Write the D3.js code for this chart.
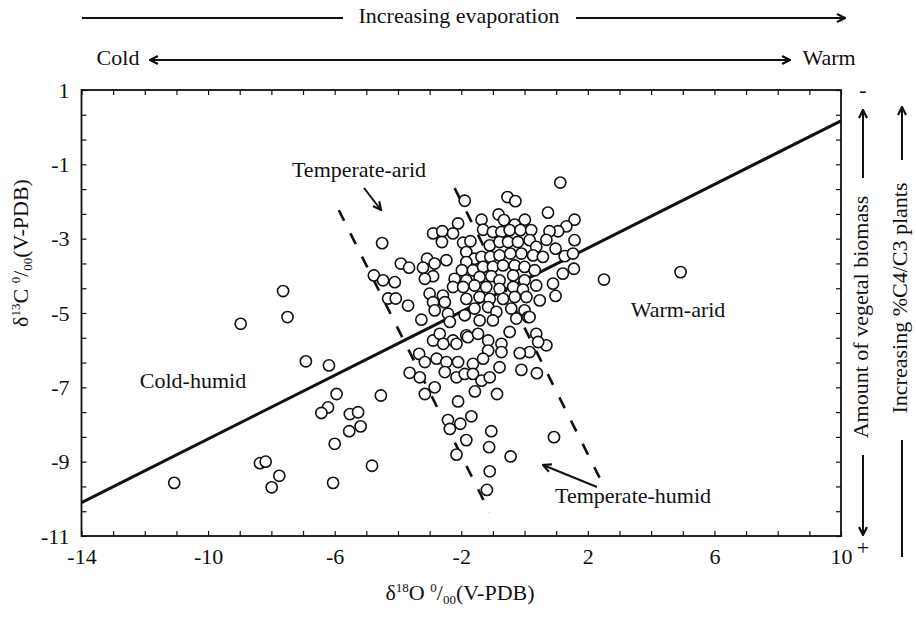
<!DOCTYPE html>
<html>
<head>
<meta charset="utf-8">
<script src="https://cdn.jsdelivr.net/npm/d3@7"></script>
<style>
  body { margin: 0; background: #fff; }
  svg { display: block; }
  text { font-family: "Liberation Serif", "Times New Roman", serif; fill: #111; }
</style>
</head>
<body>
<svg id="chart" width="916" height="622"></svg>
<script>
// Axis ranges and labelled ticks
const xDomain = [-14, 10];
const yDomain = [-11, 1];
const xTickLabels = [-14, -10, -6, -2, 2, 6, 10];
const yTickLabels = [1, -1, -3, -5, -7, -9, -11];

// Carbonate samples: δ18O (x) and δ13C (y), ‰ V-PDB
const d18O = [
  -6.91, -6.18, -5.94, -6.21, -6.42, -5.52, -5.26, -5.18, -5.54, -6.00, -4.54, -8.36, -8.18, -7.75, -7.99, -11.07, -6.05, -4.82,
  -3.63, -3.31, -3.33, -3.15, -2.78, -3.15, -2.84, -2.89, -2.68, -2.26, -1.84,
  -7.63, -7.49, -8.97, -4.50, -3.91, -4.76, -4.47, -4.10, -4.31, -4.07,
  -1.89, -0.54, -0.29, -0.82, -0.65, -0.31, 0.01, -1.36, -2.10, -2.89, -2.60, -2.26, -2.61, -1.94, -1.71, -1.31, -1.00, -0.73, -0.47, -0.13, 0.21,
  -1.10, -0.79, -0.52, -0.21, 0.16, 0.37, -3.08, -2.84, -2.47, -3.65, -3.21, -2.89, -3.15, -1.84, -1.58, -1.84, -1.36, -1.08, -0.79, -0.45, -0.10, 0.27,
  -1.98, -1.63, -1.31, -1.00, -0.68, -0.31, 0.00, 0.32, -2.21, -1.84, -1.42, -1.05, -0.79, -0.36, 0.00,
  -2.26, -1.94, -1.58, -1.21, -0.79, -0.36, -0.05, 0.37, -3.00, -2.58, -2.89, -2.52, -1.84, -1.42, -1.10, -0.68, -0.31, 0.06,
  -3.68, -2.84, -2.42, -1.89, -1.58, -1.15, -0.89, -0.42, 0.00, -3.26, -2.36, -1.42, -1.00, -0.26, 0.11,
  1.13, 0.74, 1.58, 1.32, 1.06, 0.79, 1.58, 0.69, 0.98, 1.27, 1.53, 1.56, 1.21, 0.90, 0.98, 2.51, 0.58, 0.48, 0.16,
  4.93,
  -2.57, -2.15, -1.79, -1.47, -1.15, -0.73, -0.47, -1.15, -0.73, 0.37, 0.69, 0.16, -0.15, 0.43, -2.47, -2.10, -2.52, -2.15, -1.89, -1.63, -1.31,
  -1.63, -1.36, -1.10, -0.79, -0.10, 0.39, -1.57, -0.87, -2.10, -2.42, -2.03, -1.68, -2.36, -1.84, -1.05, -1.12, 0.93, -0.44, -2.15, -1.10, -1.19
];
const d13C = [
  -6.30, -6.41, -7.18, -7.54, -7.69, -7.72, -7.67, -8.05, -8.18, -8.52, -7.22, -9.04, -9.00, -9.38, -9.69, -9.57, -9.57, -9.11,
  -6.61, -6.73, -6.10, -6.32, -6.23, -7.18, -7.00, -5.74, -5.56, -5.74, -5.60,
  -4.41, -5.11, -5.29, -3.12, -3.67, -3.99, -4.12, -4.17, -4.61, -4.61,
  -1.98, -1.88, -1.99, -2.35, -2.50, -2.62, -2.49, -2.49, -2.59, -2.86, -2.80, -2.86, -3.09, -3.11, -3.07, -2.76, -2.82, -2.82, -2.77, -2.77, -2.77,
  -3.18, -3.09, -3.09, -3.09, -3.04, -3.22, -3.54, -3.67, -3.58, -3.78, -3.78, -4.01, -4.08, -3.36, -3.54, -3.63, -3.49, -3.49, -3.45, -3.40, -3.40, -3.45,
  -3.85, -3.85, -3.76, -3.76, -3.72, -3.72, -3.76, -3.85, -4.08, -4.12, -4.03, -4.01, -4.12, -3.99, -4.12,
  -4.30, -4.30, -4.26, -4.30, -4.35, -4.30, -4.37, -4.26, -4.48, -4.53, -4.71, -4.71, -4.62, -4.57, -4.62, -4.62, -4.57, -4.57,
  -4.80, -4.93, -5.02, -5.06, -4.88, -4.84, -4.97, -4.88, -4.93, -5.18, -5.24, -5.20, -5.20, -5.15, -5.11,
  -1.49, -2.30, -2.49, -2.67, -2.80, -2.80, -3.04, -3.03, -3.27, -3.47, -3.40, -3.81, -3.94, -4.21, -4.54, -4.10, -3.49, -4.66, -5.11,
  -3.90,
  -5.83, -5.83, -5.65, -5.56, -5.74, -5.83, -5.51, -6.01, -6.05, -5.56, -5.87, -6.05, -6.08, -5.78, -6.32, -6.32, -6.59, -6.73, -6.64, -6.37, -6.23,
  -6.64, -6.82, -6.73, -6.46, -6.53, -6.62, -7.11, -7.18, -7.38, -7.88, -7.98, -7.78, -8.12, -8.42, -8.18, -8.61, -8.34, -8.86, -8.81, -9.26, -9.76
];

// Regression line end points and the two dashed zone boundaries
const trendO = [-14, 10];
const trendC = [-10.1, 0.17];
const aridBoundO = [-5.87, -1.10];
const aridBoundC = [-2.23, -10.37];
const humidBoundO = [-2.21, 2.37];
const humidBoundC = [-1.64, -9.43];

const svg = d3.select("#chart");
const L = 81.5, R = 841, T = 90, B = 536;
const x = d3.scaleLinear().domain(xDomain).range([L, R]);
const y = d3.scaleLinear().domain(yDomain).range([B, T]);

// arrowhead marker
const defs = svg.append("defs");
defs.append("marker").attr("id", "head")
  .attr("viewBox", "0 0 10 10").attr("refX", 9).attr("refY", 5)
  .attr("markerWidth", 10).attr("markerHeight", 10).attr("markerUnits", "userSpaceOnUse")
  .attr("orient", "auto-start-reverse")
  .append("path").attr("d", "M1,1 L9,5 L1,9").attr("fill", "none")
  .attr("stroke", "#111").attr("stroke-width", 2.2);

// ticks: x every 1, y every 2/3
const xMinor = d3.range(xDomain[0], xDomain[1] + 0.001, 1);
const yMinor = d3.range(0, 19).map(i => yDomain[0] + i * 2 / 3);
const isMajor = (v, list) => list.some(m => Math.abs(m - v) < 1e-6);
const fmtX = v => isMajor(v, xTickLabels) ? String(Math.round(v)) : "";
const fmtY = v => isMajor(v, yTickLabels) ? String(Math.round(v)) : "";

const axes = svg.append("g").attr("class", "axes");
const styleAxis = g => {
  g.select(".domain").remove();
  g.selectAll(".tick line").attr("stroke", "#111").attr("stroke-width", 1.2);
  g.selectAll(".tick text").attr("fill", "#111")
    .style("font-family", '"Liberation Serif", "Times New Roman", serif').style("font-size", "22px");
};
axes.append("g").attr("transform", `translate(0,${B})`)
  .call(d3.axisBottom(x).tickValues(xMinor).tickSizeInner(-5).tickSizeOuter(0).tickPadding(12).tickFormat(fmtX))
  .call(styleAxis);
axes.append("g").attr("transform", `translate(0,${T})`)
  .call(d3.axisTop(x).tickValues(xMinor).tickSizeInner(-5).tickSizeOuter(0).tickFormat(() => ""))
  .call(styleAxis);
axes.append("g").attr("transform", `translate(${L},0)`)
  .call(d3.axisLeft(y).tickValues(yMinor).tickSizeInner(-5).tickSizeOuter(0).tickPadding(12).tickFormat(fmtY))
  .call(styleAxis);
axes.append("g").attr("transform", `translate(${R},0)`)
  .call(d3.axisRight(y).tickValues(yMinor).tickSizeInner(-5).tickSizeOuter(0).tickFormat(() => ""))
  .call(styleAxis);

// plot frame
svg.append("rect").attr("x", L).attr("y", T).attr("width", R - L).attr("height", B - T)
  .attr("fill", "none").attr("stroke", "#111").attr("stroke-width", 1.8);

// regression line
svg.append("line")
  .attr("x1", x(trendO[0])).attr("y1", y(trendC[0]))
  .attr("x2", x(trendO[1])).attr("y2", y(trendC[1]))
  .attr("stroke", "#111").attr("stroke-width", 3);

// dashed boundaries
[[aridBoundO, aridBoundC], [humidBoundO, humidBoundC]].forEach(([o, c]) => {
  svg.append("line")
    .attr("x1", x(o[0])).attr("y1", y(c[0])).attr("x2", x(o[1])).attr("y2", y(c[1]))
    .attr("stroke", "#111").attr("stroke-width", 2.6).attr("stroke-dasharray", "12,14");
});

// sample points
svg.append("g").selectAll("circle").data(d3.range(d18O.length)).join("circle")
  .attr("cx", i => x(d18O[i])).attr("cy", i => y(d13C[i])).attr("r", 5.6)
  .attr("fill", "#fff").attr("stroke", "#111").attr("stroke-width", 1.6);

// zone labels
const label = (tx, ty, s, anchor = "middle") => svg.append("text")
  .attr("x", tx).attr("y", ty).attr("text-anchor", anchor).attr("dominant-baseline", "middle")
  .style("font-size", "22px").text(s);
label(359, 172, "Temperate-arid");
label(193, 383, "Cold-humid");
label(678, 312, "Warm-arid");
label(555, 498, "Temperate-humid", "start");

const arrow = (x1, y1, x2, y2, w = 2) => svg.append("line")
  .attr("x1", x1).attr("y1", y1).attr("x2", x2).attr("y2", y2)
  .attr("stroke", "#111").attr("stroke-width", w).attr("marker-end", "url(#head)");
arrow(364, 188, 381, 210);
arrow(597, 487, 543, 465);

// header arrows
svg.append("line").attr("x1", 82).attr("y1", 18).attr("x2", 343).attr("y2", 18)
  .attr("stroke", "#111").attr("stroke-width", 2);
arrow(576, 18, 845, 18);
label(459, 18, "Increasing evaporation");
label(118, 60, "Cold");
label(829, 60, "Warm");
svg.append("line").attr("x1", 150).attr("y1", 60).attr("x2", 790).attr("y2", 60)
  .attr("stroke", "#111").attr("stroke-width", 2)
  .attr("marker-start", "url(#head)").attr("marker-end", "url(#head)");

// right-hand annotations
arrow(863, 178, 863, 110);
arrow(863, 455, 863, 535);
svg.append("text").attr("transform", "translate(863,317) rotate(-90)")
  .attr("text-anchor", "middle").attr("dominant-baseline", "middle")
  .style("font-size", "22px").text("Amount of vegetal biomass");
label(863, 92, "-");
label(863, 550, "+");
arrow(902, 160, 902, 107);
svg.append("line").attr("x1", 902).attr("y1", 440).attr("x2", 902).attr("y2", 557)
  .attr("stroke", "#111").attr("stroke-width", 2);
svg.append("text").attr("transform", "translate(902,298) rotate(-90)")
  .attr("text-anchor", "middle").attr("dominant-baseline", "middle")
  .style("font-size", "22px").text("Increasing %C4/C3 plants");

// axis titles with superscripts / subscripts
function isoTitle(g, num, el) {
  const t = g.append("text").attr("text-anchor", "middle").style("font-size", "22px");
  t.append("tspan").text("δ");
  t.append("tspan").attr("dy", -8).style("font-size", "13px").text(num);
  t.append("tspan").attr("dy", 8).text(el + " ");
  t.append("tspan").attr("dy", -8).style("font-size", "13px").text("0");
  t.append("tspan").attr("dy", 8).text("/");
  t.append("tspan").attr("dy", 4).style("font-size", "13px").text("00");
  t.append("tspan").attr("dy", -4).text("(V-PDB)");
  return t;
}
isoTitle(svg.append("g").attr("transform", "translate(460,600)"), "18", "O");
isoTitle(svg.append("g").attr("transform", "translate(28,253) rotate(-90)"), "13", "C");
</script>
</body>
</html>
